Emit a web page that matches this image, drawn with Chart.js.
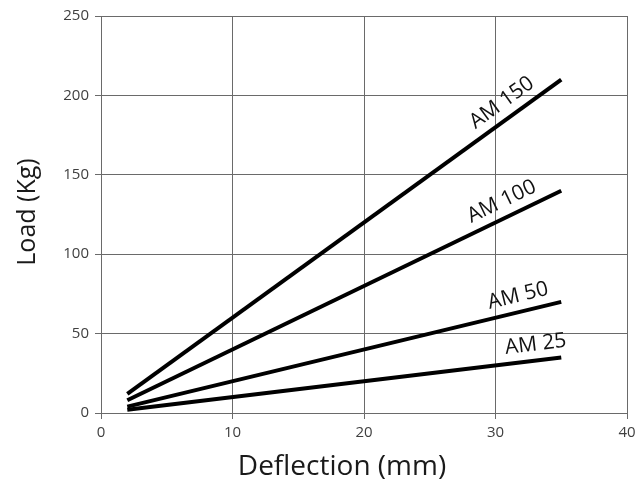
<!DOCTYPE html>
<html>
<head>
<meta charset="UTF-8">
<title>Load vs Deflection</title>
<script src="https://cdn.jsdelivr.net/npm/chart.js@4.4.1/dist/chart.umd.min.js"></script>
<style>
  html, body { margin: 0; padding: 0; background: #fff; }
  #wrap { width: 638px; height: 484px; }
</style>
</head>
<body>
<div id="wrap"><canvas id="chart"></canvas></div>
<script>
  // data
  const deflection = [2, 35];
  const seriesNames = ['AM 150', 'AM 100', 'AM 50', 'AM 25'];
  const am150 = [12, 210];
  const am100 = [8, 140];
  const am50 = [4, 70];
  const am25 = [2, 35];
  const xTicks = [0, 10, 20, 30, 40];
  const yTicks = [0, 50, 100, 150, 200, 250];
  // where along each line its label sits (x value)
  const labelAt = [31.2, 31.0, 32.0, 33.2];

  const gridColor = '#6a6a6a';
  const font = "'Open Sans', sans-serif";

  function toPoints(ys) {
    return deflection.map((x, i) => ({ x: x, y: ys[i] }));
  }

  const datasets = [am150, am100, am50, am25].map((ys, i) => ({
    label: seriesNames[i],
    data: toPoints(ys),
    showLine: true,
    borderColor: '#000',
    borderWidth: 4,
    pointRadius: 0,
    fill: false
  }));

  // line labels + axis titles
  const decorations = {
    id: 'decorations',
    afterDatasetsDraw(chart) {
      const ctx = chart.ctx;
      const xs = chart.scales.x, ys = chart.scales.y;
      ctx.save();
      ctx.fillStyle = '#111';
      ctx.font = '21px ' + font;
      ctx.textAlign = 'center';
      ctx.textBaseline = 'alphabetic';
      datasets.forEach((ds, i) => {
        const p0 = ds.data[0], p1 = ds.data[1];
        const ax = labelAt[i];
        const ay = p0.y + (p1.y - p0.y) * (ax - p0.x) / (p1.x - p0.x);
        const px = xs.getPixelForValue(ax), py = ys.getPixelForValue(ay);
        const ang = Math.atan2(ys.getPixelForValue(p1.y) - ys.getPixelForValue(p0.y),
                               xs.getPixelForValue(p1.x) - xs.getPixelForValue(p0.x));
        ctx.save();
        ctx.translate(px, py);
        ctx.rotate(ang);
        ctx.fillText(ds.label, 0, -10);
        ctx.restore();
      });
      // axis titles
      ctx.fillStyle = '#1a1a1a';
      ctx.font = '28px ' + font;
      ctx.fillText('Deflection (mm)', 342, 475);
      ctx.font = '25px ' + font;
      ctx.textBaseline = 'middle';
      ctx.save();
      ctx.translate(28, 212);
      ctx.rotate(-Math.PI / 2);
      ctx.fillText('Load (Kg)', 0, 0);
      ctx.restore();
      ctx.restore();
    }
  };

  new Chart(document.getElementById('chart'), {
    type: 'scatter',
    data: { datasets: datasets },
    options: {
      responsive: true,
      maintainAspectRatio: false,
      animation: false,
      layout: { padding: { top: 16, right: 11, left: 0, bottom: 0 } },
      plugins: { legend: { display: false }, tooltip: { enabled: false } },
      scales: {
        x: {
          type: 'linear',
          min: 0, max: 40,
          afterBuildTicks: s => { s.ticks = xTicks.map(v => ({ value: v })); },
          afterFit: s => { s.height = 71; s.paddingLeft = 0; s.paddingRight = 0; },
          grid: { color: gridColor, lineWidth: 1, tickLength: 6, drawTicks: true },
          border: { color: gridColor, width: 1 },
          ticks: { color: '#404040', font: { family: font, size: 15 }, padding: 5, maxRotation: 0 }
        },
        y: {
          type: 'linear',
          min: 0, max: 250,
          afterBuildTicks: s => { s.ticks = yTicks.map(v => ({ value: v })); },
          afterFit: s => { s.width = 101; s.paddingTop = 0; s.paddingBottom = 0; },
          grid: { color: gridColor, lineWidth: 1, tickLength: 6, drawTicks: true },
          border: { color: gridColor, width: 1 },
          ticks: { color: '#404040', font: { family: font, size: 15 }, padding: 6 }
        }
      }
    },
    plugins: [decorations]
  });
</script>
</body>
</html>
